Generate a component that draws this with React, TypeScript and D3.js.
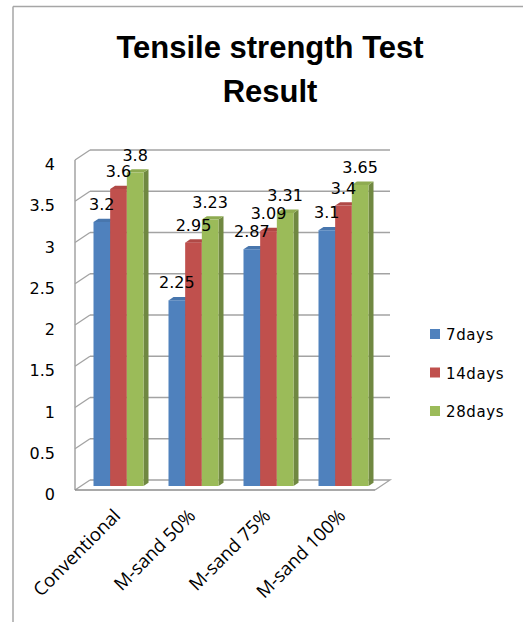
import React from "react";
import * as d3 from "d3";

const categories = ["Conventional", "M-sand 50%", "M-sand 75%", "M-sand 100%"];
const seriesNames = ["7days", "14days", "28days"];
const days7 = [3.2, 2.25, 2.87, 3.1];
const days14 = [3.6, 2.95, 3.09, 3.4];
const days28 = [3.8, 3.23, 3.31, 3.65];
const yTicks = [0, 0.5, 1, 1.5, 2, 2.5, 3, 3.5, 4];
const colors = ["#4F81BD", "#C0504D", "#9BBB59"];

const W = 523;
const H = 622;

// back wall / floor geometry of the 3-D plot area
const wall = { left: 90, right: 390, bottom: 480, top: 150 };
const depth = { dx: -15, dy: 10 }; // back wall -> front edge of floor
const barFront = { dx: depth.dx * 0.6, dy: depth.dy * 0.6 };
const barDepth = { dx: -depth.dx / 3, dy: -depth.dy / 3 };

export default function App() {
  const series = [days7, days14, days28];
  const y = d3.scaleLinear().domain([0, 4]).range([wall.bottom, wall.top]);
  const x0 = d3.scaleBand<string>().domain(categories).range([wall.left, wall.right]).padding(0);
  const x1 = d3
    .scaleBand<string>()
    .domain(seriesNames)
    .range([0, x0.bandwidth()])
    .paddingInner(0)
    .paddingOuter(0.75);

  const grid = "#a3a3a3";
  const labelFont = "DejaVu Sans, Verdana, sans-serif";

  const bars: React.ReactNode[] = [];
  const labels: React.ReactNode[] = [];
  categories.forEach((cat, ci) => {
    series.forEach((vals, si) => {
      const v = vals[ci];
      const xl = (x0(cat) as number) + (x1(seriesNames[si]) as number) + barFront.dx;
      const xr = xl + x1.bandwidth();
      const yt = y(v) + barFront.dy;
      const yb = y(0) + barFront.dy;
      const c = d3.color(colors[si])!;
      const top = c.darker(0.25).formatHex();
      const side = c.darker(0.9).formatHex();
      const ddx = barDepth.dx;
      const ddy = barDepth.dy;
      bars.push(
        <g key={`b-${ci}-${si}`}>
          <polygon
            points={`${xr},${yt} ${xr + ddx},${yt + ddy} ${xr + ddx},${yb + ddy} ${xr},${yb}`}
            fill={side}
          />
          <polygon
            points={`${xl},${yt} ${xl + ddx},${yt + ddy} ${xr + ddx},${yt + ddy} ${xr},${yt}`}
            fill={top}
          />
          <rect x={xl} y={yt} width={xr - xl} height={yb - yt} fill={colors[si]} />
        </g>
      );
      labels.push(
        <text
          key={`l-${ci}-${si}`}
          x={(xl + xr) / 2}
          y={yt - 12}
          textAnchor="middle"
          fontFamily={labelFont}
          fontSize={16}
          fill="#000"
        >
          {v}
        </text>
      );
    });
  });

  return (
    <svg
      width={W}
      height={H}
      viewBox={`0 0 ${W} ${H}`}
      style={{ position: "absolute", left: 0, top: 0, background: "#fff" }}
    >
      {/* chart frame */}
      <line x1={13} y1={6.5} x2={W} y2={6.5} stroke="#a6a6a6" strokeWidth={1.5} />
      <line x1={13} y1={6.5} x2={13} y2={H} stroke="#a6a6a6" strokeWidth={1.5} />

      {/* title */}
      <text
        x={270}
        y={58}
        textAnchor="middle"
        fontFamily="Liberation Sans, Arial, sans-serif"
        fontWeight="bold"
        fontSize={31}
      >
        Tensile strength Test
      </text>
      <text
        x={270}
        y={102}
        textAnchor="middle"
        fontFamily="Liberation Sans, Arial, sans-serif"
        fontWeight="bold"
        fontSize={31}
      >
        Result
      </text>

      {/* gridlines on back and side walls */}
      {yTicks.map((t) => (
        <g key={`g-${t}`}>
          {t > 0 && (
            <line x1={wall.left} y1={y(t)} x2={wall.right} y2={y(t)} stroke={grid} strokeWidth={1.3} />
          )}
          <line
            x1={wall.left + depth.dx}
            y1={y(t) + depth.dy}
            x2={wall.left}
            y2={y(t)}
            stroke={grid}
            strokeWidth={1.3}
          />
          <text
            x={55}
            y={y(t) + depth.dy + 10}
            textAnchor="end"
            fontFamily={labelFont}
            fontSize={16}
            fill="#000"
          >
            {t}
          </text>
        </g>
      ))}

      {/* floor */}
      <polyline
        points={`${wall.left},${wall.bottom} ${wall.right},${wall.bottom} ${wall.right + depth.dx},${wall.bottom + depth.dy}`}
        fill="none"
        stroke={grid}
        strokeWidth={1.3}
      />
      {/* value axis */}
      <line
        x1={wall.left + depth.dx}
        y1={y(4) + depth.dy}
        x2={wall.left + depth.dx}
        y2={y(0) + depth.dy}
        stroke={grid}
        strokeWidth={1.5}
      />
      {/* category axis */}
      <line
        x1={wall.left + depth.dx}
        y1={y(0) + depth.dy}
        x2={wall.right + depth.dx}
        y2={y(0) + depth.dy}
        stroke="#8c8c8c"
        strokeWidth={1.5}
      />

      {bars}
      {labels}

      {/* category labels */}
      {categories.map((cat) => {
        const cx = (x0(cat) as number) + x0.bandwidth() / 2 + barFront.dx;
        return (
          <text
            key={`c-${cat}`}
            transform={`translate(${cx + 3},${y(0) + depth.dy + 27}) rotate(-45)`}
            textAnchor="end"
            fontFamily="Open Sans, sans-serif"
            fontSize={18.5}
            fill="#000"
          >
            {cat}
          </text>
        );
      })}

      {/* legend */}
      {seriesNames.map((s, i) => (
        <g key={`lg-${s}`} transform={`translate(430,${329 + i * 38.5})`}>
          <rect x={0} y={0} width={10} height={10} fill={colors[i]} />
          <text x={16} y={11} fontFamily={labelFont} fontSize={15} letterSpacing={0.6} fill="#000">
            {s}
          </text>
        </g>
      ))}
    </svg>
  );
}
